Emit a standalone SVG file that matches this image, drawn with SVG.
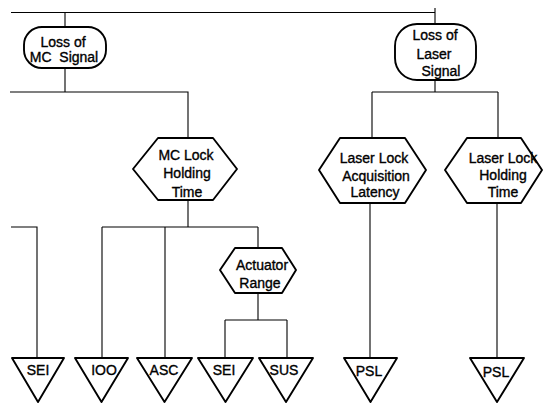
<svg xmlns="http://www.w3.org/2000/svg" width="544" height="403" viewBox="0 0 544 403">
  <style>
    .bg { fill: #ffffff; }
    .wire { stroke: #000; stroke-width: 1.1; fill: none; }
    .shape { stroke: #000; stroke-width: 1.9; fill: #fff; stroke-linejoin: round; }
    .lbl { font-family: "Liberation Sans", Arial, sans-serif; font-size: 14px; fill: #000; stroke: #000; stroke-width: 0.35; text-anchor: middle; }
  </style>
  <rect class="bg" x="0" y="0" width="544" height="403"/>

  <g id="connectors">
    <!-- top bus -->
    <path class="wire" d="M11 12.5 H435 M435 8 V24 M65 12.5 V27"/>
    <!-- MC signal branch -->
    <path class="wire" d="M65 68 V92 M10 92 H188 V138"/>
    <path class="wire" d="M188 200 V227 M102 227 H258 M102 227 V358 M165 227 V358 M258 227 V248"/>
    <path class="wire" d="M11 227 H37 V358"/>
    <!-- actuator range branch -->
    <path class="wire" d="M258 293 V320 M225 320 H287 M225 320 V358 M287 320 V358"/>
    <!-- laser signal branch -->
    <path class="wire" d="M435 80 V92 M372 92 H498 M372 92 V138 M498 92 V138"/>
    <path class="wire" d="M370 203 V358 M497 203 V358"/>
  </g>

  <g id="loss-mc-signal">
    <rect class="shape" x="24" y="27" width="82" height="41" rx="18" ry="18"/>
    <text class="lbl" x="63" y="47">Loss of</text>
    <text class="lbl" x="64" y="62" xml:space="preserve">MC  Signal</text>
  </g>

  <g id="loss-laser-signal">
    <rect class="shape" x="395" y="24" width="81" height="56" rx="22" ry="22"/>
    <text class="lbl" x="435" y="40">Loss of</text>
    <text class="lbl" x="434" y="59">Laser</text>
    <text class="lbl" x="441" y="76">Signal</text>
  </g>

  <g id="mc-lock-holding-time">
    <polygon class="shape" points="158,138 213,138 237,169 213,200 158,200 133,169"/>
    <text class="lbl" x="186" y="160">MC Lock</text>
    <text class="lbl" x="187" y="178">Holding</text>
    <text class="lbl" x="187" y="197">Time</text>
  </g>

  <g id="laser-lock-acquisition-latency">
    <polygon class="shape" points="340,138 405,138 426,170 405,203 340,203 319,170"/>
    <text class="lbl" x="374" y="163">Laser Lock</text>
    <text class="lbl" x="376" y="181">Acquisition</text>
    <text class="lbl" x="375" y="197">Latency</text>
  </g>

  <g id="laser-lock-holding-time">
    <polygon class="shape" points="467,138 521,138 542,170 521,203 467,203 445,170"/>
    <text class="lbl" x="503" y="163">Laser Lock</text>
    <text class="lbl" x="503" y="180">Holding</text>
    <text class="lbl" x="503" y="197">Time</text>
  </g>

  <g id="actuator-range">
    <polygon class="shape" points="235,248 282,248 296,270 282,293 235,293 220,270"/>
    <text class="lbl" x="262" y="270">Actuator</text>
    <text class="lbl" x="260" y="288">Range</text>
  </g>

  <g id="sei-1">
    <polygon class="shape" points="12,358 64,358 38,402"/>
    <text class="lbl" x="38" y="375">SEI</text>
  </g>
  <g id="ioo">
    <polygon class="shape" points="75,358 128,358 101.5,402"/>
    <text class="lbl" x="104" y="375">IOO</text>
  </g>
  <g id="asc">
    <polygon class="shape" points="137,358 192,358 164.5,402"/>
    <text class="lbl" x="164" y="375">ASC</text>
  </g>
  <g id="sei-2">
    <polygon class="shape" points="198,358 253,358 225.5,402"/>
    <text class="lbl" x="224" y="375">SEI</text>
  </g>
  <g id="sus">
    <polygon class="shape" points="259,358 313,358 286,402"/>
    <text class="lbl" x="284" y="375">SUS</text>
  </g>
  <g id="psl-1">
    <polygon class="shape" points="344,358 397,358 370.5,402"/>
    <text class="lbl" x="369" y="376">PSL</text>
  </g>
  <g id="psl-2">
    <polygon class="shape" points="470,358 524,358 497,402"/>
    <text class="lbl" x="496" y="377">PSL</text>
  </g>
</svg>
